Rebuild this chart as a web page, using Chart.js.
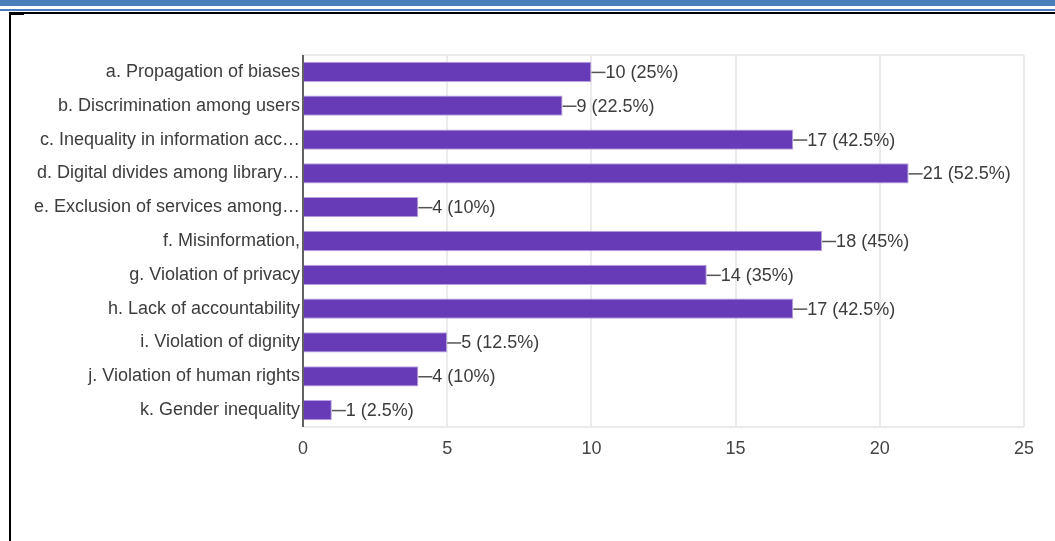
<!DOCTYPE html>
<html>
<head>
<meta charset="utf-8">
<script src="https://cdn.jsdelivr.net/npm/chart.js@4"></script>
<style>
  html, body { margin: 0; padding: 0; background: #fff; }
  #wrap { position: relative; width: 1055px; height: 541px; overflow: hidden; }
  .band1 { position: absolute; left: 0; top: 0; width: 1055px; height: 6px; background: #4a7ebb; }
  .band2 { position: absolute; left: 0; top: 9px; width: 1055px; height: 2px; background: #4a7ebb; }
  .line3 { position: absolute; left: 9px; top: 12px; width: 1046px; height: 2px; background: #000; }
  .vline { position: absolute; left: 9px; top: 12px; width: 2px; height: 529px; background: #000; }
  .corner { position: absolute; left: 9px; top: 13px; width: 15px; height: 2px; background: #000; }
  canvas { position: absolute; left: 0; top: 0; }
</style>
</head>
<body>
<div id="wrap">
  <div class="band1"></div>
  <div class="band2"></div>
  <div class="line3"></div>
  <div class="vline"></div>
  <div class="corner"></div>
  <canvas id="c" width="1055" height="541"></canvas>
</div>
<script>
const categories = [
  "a. Propagation of biases",
  "b. Discrimination among users",
  "c. Inequality in information acc\u2026",
  "d. Digital divides among library\u2026",
  "e. Exclusion of services among\u2026",
  "f. Misinformation,",
  "g. Violation of privacy",
  "h. Lack of accountability",
  "i. Violation of dignity",
  "j. Violation of human rights",
  "k. Gender inequality"
];
const counts = [10, 9, 17, 21, 4, 18, 14, 17, 5, 4, 1];
const percents = ["25%", "22.5%", "42.5%", "52.5%", "10%", "45%", "35%", "42.5%", "12.5%", "10%", "2.5%"];
const xTickLabels = [0, 5, 10, 15, 20, 25];

const FONT = "'Liberation Sans', Arial, sans-serif";

const labelPlugin = {
  id: 'barLabels',
  afterDatasetsDraw(chart) {
    const ctx = chart.ctx;
    const meta = chart.getDatasetMeta(0);
    ctx.save();
    ctx.font = "18px " + FONT;
    ctx.textBaseline = 'middle';
    ctx.textAlign = 'left';
    meta.data.forEach((bar, i) => {
      const x = bar.x, y = bar.y;
      ctx.strokeStyle = '#555';
      ctx.lineWidth = 1.5;
      ctx.beginPath();
      ctx.moveTo(x, y + 0.5);
      ctx.lineTo(x + 14, y + 0.5);
      ctx.stroke();
      ctx.fillStyle = '#3c3c3c';
      ctx.fillText(counts[i] + " (" + percents[i] + ")", x + 14, y + 1);
    });
    ctx.restore();
  }
};

const framePlugin = {
  id: 'frame',
  beforeDatasetsDraw(chart) {
    const a = chart.chartArea, ctx = chart.ctx;
    ctx.save();
    ctx.strokeStyle = '#ebebeb';
    ctx.lineWidth = 2;
    ctx.beginPath();
    ctx.moveTo(a.left, a.top); ctx.lineTo(a.right, a.top);
    ctx.moveTo(a.left, a.bottom); ctx.lineTo(a.right, a.bottom);
    ctx.stroke();
    ctx.restore();
  },
  afterDatasetsDraw(chart) {
    const a = chart.chartArea, ctx = chart.ctx;
    ctx.save();
    ctx.strokeStyle = '#333';
    ctx.lineWidth = 1.5;
    ctx.beginPath();
    ctx.moveTo(a.left, a.top); ctx.lineTo(a.left, a.bottom);
    ctx.stroke();
    ctx.restore();
  }
};

new Chart(document.getElementById('c'), {
  type: 'bar',
  data: {
    labels: categories,
    datasets: [{
      data: counts,
      backgroundColor: '#673ab7',
      borderColor: '#b9a3e0',
      borderWidth: 1,
      barPercentage: 0.6,
      categoryPercentage: 1.0
    }]
  },
  options: {
    indexAxis: 'y',
    responsive: false,
    animation: false,
    layout: { padding: { left: 0, right: 31, top: 55, bottom: 0 } },
    plugins: { legend: { display: false }, tooltip: { enabled: false } },
    scales: {
      x: {
        min: 0, max: 25,
        ticks: {
          stepSize: 2.5,
          padding: 11,
          color: '#444',
          font: { family: FONT, size: 18 },
          maxRotation: 0,
          callback: (v) => xTickLabels.includes(v) ? String(v) : null
        },
        grid: { color: '#ebebeb', lineWidth: 2, drawTicks: false },
        border: { display: false },
        afterFit: (s) => { s.height = 541 - 427; }
      },
      y: {
        ticks: {
          padding: 3,
          color: '#3c3c3c',
          font: { family: FONT, size: 18 },
          autoSkip: false
        },
        grid: { display: false, drawTicks: false },
        border: { display: false },
        afterFit: (s) => { s.width = 303; }
      }
    }
  },
  plugins: [framePlugin, labelPlugin]
});
</script>
</body>
</html>
